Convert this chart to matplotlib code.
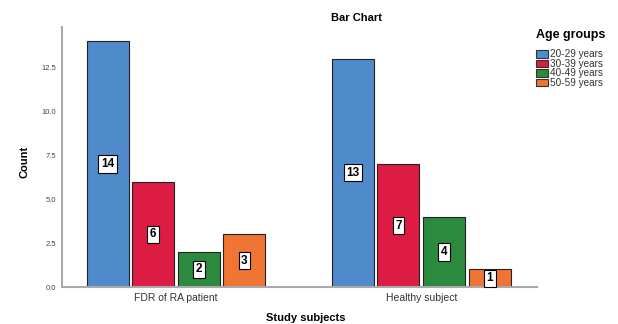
import matplotlib
matplotlib.use("Agg")
import matplotlib.pyplot as plt
import numpy as np

plt.rcParams["font.family"] = ["Liberation Sans", "DejaVu Sans"]

subjects = ["FDR of RA patient", "Healthy subject"]
age_groups = ["20-29 years", "30-39 years", "40-49 years", "50-59 years"]
counts = {
    "20-29 years": [14, 13],
    "30-39 years": [6, 7],
    "40-49 years": [2, 4],
    "50-59 years": [3, 1],
}
colors = ["#4F8BCB", "#DD1C43", "#2B8A3E", "#F07434"]
yticks = [0.0, 2.5, 5.0, 7.5, 10.0, 12.5]

fig = plt.figure(figsize=(6.18, 3.24), dpi=100)
ax = fig.add_axes([0.1003, 0.114, 0.769, 0.803])

x = np.arange(len(subjects))
step = 0.186
width = 0.171
for i, grp in enumerate(age_groups):
    pos = x + (i - 1.5) * step
    bars = ax.bar(pos, counts[grp], width, color=colors[i], edgecolor="#222222",
                  linewidth=0.8, label=grp, zorder=2)
    for b, v in zip(bars, counts[grp]):
        ax.text(b.get_x() + b.get_width() / 2, v / 2, str(v), ha="center", va="center",
                fontsize=8.5, fontweight="bold", zorder=3,
                bbox=dict(boxstyle="square,pad=0.22", fc="white", ec="black", lw=0.8))

ax.set_xlim(-0.465, 1.473)
ax.set_ylim(0, 14.8)
ax.set_xticks(x)
ax.set_xticklabels(subjects, fontsize=7.5, color="#333333")
ax.set_yticks(yticks)
ax.set_yticklabels([f"{t:.1f}" for t in yticks], fontsize=5.5, color="#444444")
ax.tick_params(length=0, pad=4)
for s in ["top", "right"]:
    ax.spines[s].set_visible(False)
for s in ["left", "bottom"]:
    ax.spines[s].set_color("#aaaaaa")
    ax.spines[s].set_linewidth(1.5)

fig.text(0.577, 0.945, "Bar Chart", ha="center", va="center", fontsize=8, fontweight="bold")
fig.text(0.039, 0.5, "Count", ha="center", va="center", rotation=90, fontsize=8, fontweight="bold")
fig.text(0.494, 0.018, "Study subjects", ha="center", va="center", fontsize=8, fontweight="bold")

leg = fig.legend(loc="upper left", bbox_to_anchor=(0.867, 0.91), frameon=False,
                 fontsize=7.2, title="Age groups", handlelength=1.2, handleheight=0.8,
                 handletextpad=0.2, labelspacing=-0.05, borderaxespad=0, borderpad=0)
leg.get_title().set_fontweight("bold")
leg.get_title().set_fontsize(9)
leg._legend_box.align = "left"
leg._legend_box.sep = 6
for h in leg.legend_handles:
    h.set_edgecolor("#333333")
for t in leg.get_texts():
    t.set_color("#333333")

fig.savefig("out.png", dpi=100)
